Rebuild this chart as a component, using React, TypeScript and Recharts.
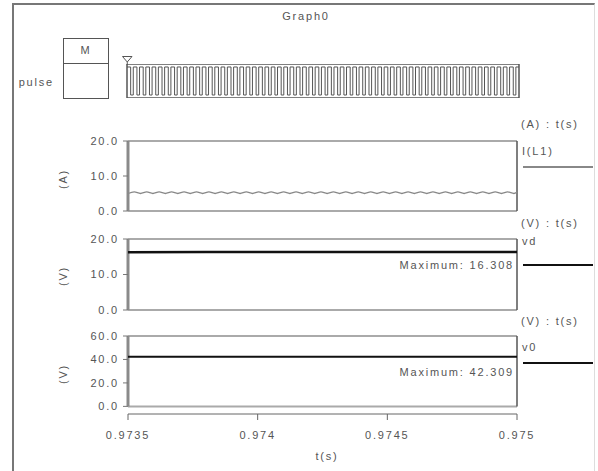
import React from 'react';
import { LineChart, Line, XAxis, YAxis, ReferenceLine } from 'recharts';

const T0 = 0.9735;
const T1 = 0.975;
const xTicks = [0.9735, 0.974, 0.9745, 0.975];
const xTickLabels = ['0.9735', '0.974', '0.9745', '0.975'];

const ticksA = [0, 10, 20];
const ticksVd = [0, 10, 20];
const ticksV0 = [0, 20, 40, 60];

// pulse edges (µs after 0.9735 s) and gate level
const pulseEdgeUs = [0,14,24,38,48,62,72,86,96,110,120,134,144,158,168,182,192,206,216,230,240,254,264,278,288,302,312,326,336,350,360,374,384,398,408,422,432,446,456,470,480,494,504,518,528,542,552,566,576,590,600,614,624,638,648,662,672,686,696,710,720,734,744,758,768,782,792,806,816,830,840,854,864,878,888,902,912,926,936,950,960,974,984,998,1008,1022,1032,1046,1056,1070,1080,1094,1104,1118,1128,1142,1152,1166,1176,1190,1200,1214,1224,1238,1248,1262,1272,1286,1296,1310,1320,1334,1344,1358,1368,1382,1392,1406,1416,1430,1440,1454,1464,1478,1488,1500];
const pulseLevels = [1,0,1,0,1,0,1,0,1,0,1,0,1,0,1,0,1,0,1,0,1,0,1,0,1,0,1,0,1,0,1,0,1,0,1,0,1,0,1,0,1,0,1,0,1,0,1,0,1,0,1,0,1,0,1,0,1,0,1,0,1,0,1,0,1,0,1,0,1,0,1,0,1,0,1,0,1,0,1,0,1,0,1,0,1,0,1,0,1,0,1,0,1,0,1,0,1,0,1,0,1,0,1,0,1,0,1,0,1,0,1,0,1,0,1,0,1,0,1,0,1,0,1,0,1,1];

// inductor current I(L1)
const iLTimesUs = [0,24,48,72,96,120,144,168,192,216,240,264,288,312,336,360,384,408,432,456,480,504,528,552,576,600,624,648,672,696,720,744,768,792,816,840,864,888,912,936,960,984,1008,1032,1056,1080,1104,1128,1152,1176,1200,1224,1248,1272,1296,1320,1344,1368,1392,1416,1440,1464,1488,1500];
const iLValues = [5.0,5.45,5.0,5.45,5.0,5.45,5.0,5.45,5.0,5.45,5.0,5.45,5.0,5.45,5.0,5.45,5.0,5.45,5.0,5.45,5.0,5.45,5.0,5.45,5.0,5.45,5.0,5.45,5.0,5.45,5.0,5.45,5.0,5.45,5.0,5.45,5.0,5.45,5.0,5.45,5.0,5.45,5.0,5.45,5.0,5.45,5.0,5.45,5.0,5.45,5.0,5.45,5.0,5.45,5.0,5.45,5.0,5.45,5.0,5.45,5.0,5.45,5.0,5.45];

// vd and v0
const vTimesUs = [0, 300, 600, 900, 1200, 1500];
const vdValues = [16.302, 16.305, 16.308, 16.306, 16.304, 16.307];
const v0Values = [42.303, 42.306, 42.309, 42.305, 42.304, 42.307];

const toT = (us: number) => T0 + us / 1e6;
const pulseData = pulseEdgeUs.map((u, i) => ({ t: toT(u), p: pulseLevels[i] }));
const iLData = iLTimesUs.map((u, i) => ({ t: toT(u), v: iLValues[i] }));
const vdData = vTimesUs.map((u, i) => ({ t: toT(u), v: vdValues[i] }));
const v0Data = vTimesUs.map((u, i) => ({ t: toT(u), v: v0Values[i] }));

const vdMax = Math.max(...vdValues);
const v0Max = Math.max(...v0Values);

const FONT = '"Liberation Sans", Arial, Helvetica, sans-serif';
const TEXT = '#555';
const tickStyle = { fill: TEXT, fontSize: 11 };

function frame(ymin: number, ymax: number) {
  return [
    <ReferenceLine key="top" segment={[{ x: T0, y: ymax }, { x: T1, y: ymax }]} stroke="#aaa" strokeWidth={2} />,
    <ReferenceLine key="bot" segment={[{ x: T0, y: ymin }, { x: T1, y: ymin }]} stroke="#aaa" strokeWidth={2} />,
    <ReferenceLine key="right" segment={[{ x: T1, y: ymin }, { x: T1, y: ymax }]} stroke="#555" strokeWidth={1.5} />,
    <ReferenceLine key="left" segment={[{ x: T0, y: ymin }, { x: T0, y: ymax }]} stroke="#8a8a8a" strokeWidth={3} />,
  ];
}

const Txt = ({ x, y, children, align = 'left', w = 120 }: any) => {
  const style: React.CSSProperties = {
    position: 'absolute',
    top: y - 7,
    height: 14,
    lineHeight: '14px',
    whiteSpace: 'nowrap',
  };
  if (align === 'left') style.left = x;
  if (align === 'right') { style.left = x - w; style.width = w; style.textAlign = 'right'; }
  if (align === 'center') { style.left = x - w / 2; style.width = w; style.textAlign = 'center'; }
  return <div style={style}>{children}</div>;
};

const RotLabel = ({ x, y, children }: any) => (
  <div style={{ position: 'absolute', left: x - 20, top: y - 7, width: 40, height: 14, lineHeight: '14px', textAlign: 'center', transform: 'rotate(-90deg)' }}>{children}</div>
);

const LegendLine = ({ y, color }: any) => (
  <div style={{ position: 'absolute', left: 523, top: y - 1, width: 70, height: 0, borderTop: `2px solid ${color}` }} />
);

export default function App() {
  return (
    <div style={{ position: 'absolute', left: 0, top: 0, width: 598, height: 471, background: '#fff', fontFamily: FONT, fontSize: 11, color: TEXT, letterSpacing: '1.8px', overflow: 'hidden' }}>
      {/* outer frame */}
      <div style={{ position: 'absolute', left: 12, top: 3, width: 580, height: 480, borderLeft: '2px solid #777', borderTop: '2px solid #777', borderRight: '1px solid #ddd' }} />

      <Txt x={306} y={16} align="center">Graph0</Txt>

      {/* M box */}
      <div style={{ position: 'absolute', left: 63, top: 38, width: 44, height: 59, border: '1px solid #555' }} />
      <div style={{ position: 'absolute', left: 63, top: 63, width: 45, height: 0, borderTop: '1px solid #555' }} />
      <Txt x={86} y={50} align="center" w={40}>M</Txt>
      <Txt x={54} y={82} align="right" w={50}>pulse</Txt>

      {/* marker triangle */}
      <svg style={{ position: 'absolute', left: 122, top: 56 }} width={11} height={9}>
        <polygon points="0.5,0.5 10,0.5 5.25,6" fill="none" stroke="#555" strokeWidth={1} />
        <line x1={5.25} y1={6} x2={5.25} y2={9} stroke="#555" />
      </svg>

      {/* pulse panel */}
      <div style={{ position: 'absolute', left: 0, top: 64 }}>
        <LineChart width={598} height={34} data={pulseData} margin={{ top: 0, right: 79, bottom: 0, left: 127 }}>
          <XAxis dataKey="t" type="number" domain={[T0, T1]} hide />
          <YAxis hide domain={[-0.107, 1.107]} />
          <Line dataKey="p" type="stepAfter" stroke="#555" strokeWidth={1} dot={false} isAnimationActive={false} />
          <ReferenceLine segment={[{ x: T0, y: 1.107 }, { x: T1, y: 1.107 }]} stroke="#555" strokeWidth={1.5} />
          <ReferenceLine segment={[{ x: T0, y: -0.107 }, { x: T1, y: -0.107 }]} stroke="#555" strokeWidth={1.5} />
          <ReferenceLine segment={[{ x: T0, y: -0.107 }, { x: T0, y: 1.107 }]} stroke="#555" strokeWidth={1.5} />
          <ReferenceLine segment={[{ x: T1, y: -0.107 }, { x: T1, y: 1.107 }]} stroke="#555" strokeWidth={1.5} />
        </LineChart>
      </div>

      {/* panel 1: I(L1) */}
      <div style={{ position: 'absolute', left: 0, top: 131 }}>
        <LineChart width={598} height={90} data={iLData} margin={{ top: 10, right: 81, bottom: 10, left: 0 }}>
          <XAxis dataKey="t" type="number" domain={[T0, T1]} hide />
          <YAxis width={128} domain={[0, 20]} ticks={ticksA} tickFormatter={(v: number) => v.toFixed(1)} axisLine={false} tickLine={{ stroke: '#777' }} tickSize={5} tickMargin={4} tick={tickStyle} interval={0} />
          {frame(0, 20)}
          <Line dataKey="v" type="monotone" stroke="#888" strokeWidth={1.3} dot={false} isAnimationActive={false} />
        </LineChart>
      </div>

      {/* panel 2: vd */}
      <div style={{ position: 'absolute', left: 0, top: 229 }}>
        <LineChart width={598} height={91} data={vdData} margin={{ top: 10, right: 81, bottom: 10, left: 0 }}>
          <XAxis dataKey="t" type="number" domain={[T0, T1]} hide />
          <YAxis width={128} domain={[0, 20]} ticks={ticksVd} tickFormatter={(v: number) => v.toFixed(1)} axisLine={false} tickLine={{ stroke: '#777' }} tickSize={5} tickMargin={4} tick={tickStyle} interval={0} />
          {frame(0, 20)}
          <Line dataKey="v" type="linear" stroke="#111" strokeWidth={2.5} dot={false} isAnimationActive={false} />
        </LineChart>
      </div>

      {/* panel 3: v0 with time axis */}
      <div style={{ position: 'absolute', left: 0, top: 326 }}>
        <LineChart width={598} height={123} data={v0Data} margin={{ top: 10, right: 81, bottom: 0, left: 0 }}>
          <XAxis dataKey="t" type="number" domain={[T0, T1]} ticks={xTicks} tickFormatter={(v: number) => xTickLabels[xTicks.indexOf(v)] ?? String(v)} axisLine={{ stroke: '#666' }} tickLine={{ stroke: '#666' }} tickSize={6} tickMargin={11} tick={tickStyle} height={35} interval={0} />
          <YAxis width={128} domain={[-6.5, 60]} ticks={ticksV0} tickFormatter={(v: number) => v.toFixed(1)} axisLine={false} tickLine={{ stroke: '#777' }} tickSize={5} tickMargin={4} tick={tickStyle} interval={0} allowDataOverflow />
          {frame(0, 60)}
          <Line dataKey="v" type="linear" stroke="#111" strokeWidth={2} dot={false} isAnimationActive={false} />
        </LineChart>
      </div>

      {/* axis unit labels */}
      <RotLabel x={63} y={179}>(A)</RotLabel>
      <RotLabel x={63} y={276}>(V)</RotLabel>
      <RotLabel x={63} y={374}>(V)</RotLabel>
      <Txt x={327} y={456} align="center" w={50}>t(s)</Txt>

      {/* maximum annotations */}
      <Txt x={514} y={265} align="right" w={160}>{`Maximum: ${vdMax.toFixed(3)}`}</Txt>
      <Txt x={514} y={372} align="right" w={160}>{`Maximum: ${v0Max.toFixed(3)}`}</Txt>

      {/* right legend */}
      <Txt x={521} y={124}>(A) : t(s)</Txt>
      <Txt x={522} y={151}>I(L1)</Txt>
      <LegendLine y={167} color="#888" />
      <Txt x={521} y={223}>(V) : t(s)</Txt>
      <Txt x={522} y={241}>vd</Txt>
      <LegendLine y={265} color="#111" />
      <Txt x={521} y={321}>(V) : t(s)</Txt>
      <Txt x={522} y={347}>v0</Txt>
      <LegendLine y={363} color="#111" />
    </div>
  );
}
